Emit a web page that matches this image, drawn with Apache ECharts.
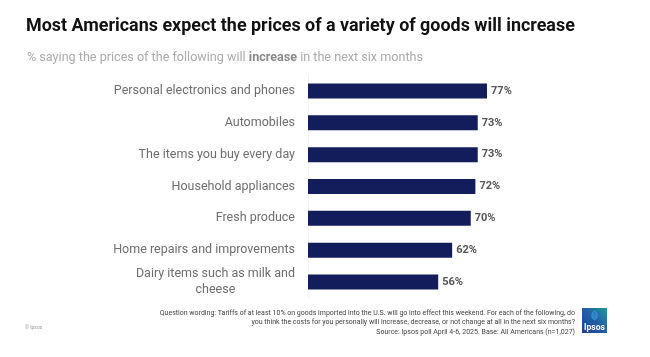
<!DOCTYPE html>
<html>
<head>
<meta charset="utf-8">
<script src="https://cdn.jsdelivr.net/npm/echarts@6/dist/echarts.min.js"></script>
<style>
html,body{margin:0;padding:0;background:#fff;}
#chart{width:650px;height:357px;}
</style>
</head>
<body>
<div id="chart"></div>
<script>
const categories = [
  "Personal electronics and phones",
  "Automobiles",
  "The items you buy every day",
  "Household appliances",
  "Fresh produce",
  "Home repairs and improvements",
  "Dairy items such as milk and\ncheese"
];
const values = [77, 73, 73, 72, 70, 62, 56];
const titleText = "Most Americans expect the prices of a variety of goods will increase";
const footnoteLines = [
  "Question wording: Tariffs of at least 10% on goods imported into the U.S. will go into effect this weekend. For each of the following, do",
  "you think the costs for you personally will increase, decrease, or not change at all in the next six months?",
  "Source: Ipsos poll April 4-6, 2025. Base: All Americans (n=1,027)"
];

const chart = echarts.init(document.getElementById('chart'), null, {renderer: 'canvas'});
const FONT = 'Roboto, "Liberation Sans", sans-serif';

chart.setOption({
  backgroundColor: '#ffffff',
  animation: false,
  grid: {left: 308, top: 75, width: 232.5, height: 223, containLabel: false},
  xAxis: {type: 'value', min: 0, max: 100, show: false},
  yAxis: {
    type: 'category',
    data: categories,
    inverse: true,
    axisLine: {show: true, lineStyle: {color: '#f2f2f2', width: 1}},
    axisTick: {show: false},
    axisLabel: {
      margin: 13,
      formatter: function (v) {
        return v.split('\n').map(function (l) { return '{c|' + l + '}'; }).join('\n');
      },
      rich: {
        c: {fontFamily: FONT, fontSize: 12.5, color: '#6e6e6e', align: 'center', lineHeight: 16}
      }
    }
  },
  series: [{
    type: 'bar',
    data: values,
    barWidth: 15,
    itemStyle: {color: '#141d5b'},
    label: {
      show: true, position: 'right', distance: 4,
      formatter: '{c}%',
      fontFamily: FONT, fontWeight: 'bold', fontSize: 11, color: '#555555'
    }
  }],
  graphic: [
    {
      type: 'text', x: 26, y: 17, scaleX: 0.943,
      style: {
        text: titleText, fontFamily: FONT, fontWeight: 'bold', fontSize: 19,
        fill: '#111111', align: 'left', verticalAlign: 'top'
      }
    },
    {
      type: 'text', x: 27, y: 51,
      style: {
        text: '{a|% saying the prices of the following will }{b|increase}{a| in the next six months}',
        align: 'left', verticalAlign: 'top',
        rich: {
          a: {fontFamily: FONT, fontSize: 12.6, fontWeight: 'normal', fill: '#ababab'},
          b: {fontFamily: FONT, fontSize: 12.6, fontWeight: 'bold', fill: '#8a8a8a'}
        }
      }
    },
    {
      type: 'text', x: 575, y: 308.5,
      style: {
        text: footnoteLines.join('\n'),
        fontFamily: FONT, fontSize: 7, lineHeight: 9.3,
        fill: '#444444', align: 'right', verticalAlign: 'top'
      }
    },
    {
      type: 'text', x: 25, y: 325.5,
      style: {text: '© Ipsos', fontFamily: FONT, fontSize: 5, fill: '#999999'}
    },
    {
      type: 'rect', x: 582, y: 308,
      shape: {width: 25, height: 25},
      style: {
        fill: new echarts.graphic.LinearGradient(0, 1, 1, 0, [
          {offset: 0, color: '#1d3f95'}, {offset: 0.55, color: '#2460a8'}, {offset: 1, color: '#1f9a98'}
        ])
      }
    },
    {
      type: 'ellipse', x: 594.5, y: 315.5,
      shape: {cx: 0, cy: 0, rx: 2.6, ry: 4.2},
      style: {fill: '#3a78c8', stroke: '#2f9fd0', lineWidth: 1}
    },
    {
      type: 'text', x: 594.5, y: 323,
      style: {text: 'Ipsos', fontFamily: FONT, fontSize: 8.5, fontWeight: 'bold', fill: '#ffffff', align: 'center', verticalAlign: 'top'}
    }
  ]
});
</script>
</body>
</html>
